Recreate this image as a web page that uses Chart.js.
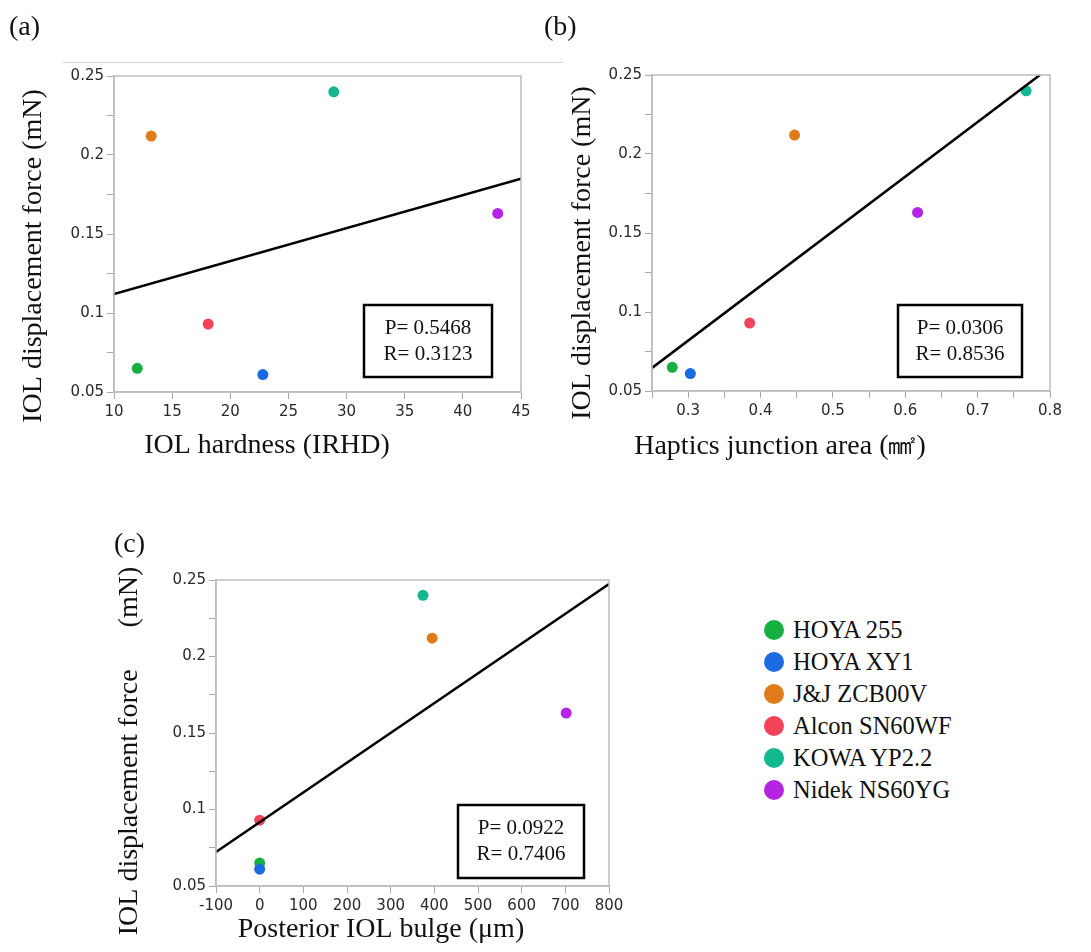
<!DOCTYPE html>
<html>
<head>
<meta charset="utf-8">
<script src="https://cdn.jsdelivr.net/npm/chart.js@4.4.1/dist/chart.umd.min.js"></script>
<style>
  body { margin: 0; background: #fff; }
  #page { position: relative; width: 1091px; height: 952px; overflow: hidden; }
  canvas { position: absolute; }
  #topRule { position: absolute; left: 63px; top: 62px; width: 500px; height: 1px; background: #d4d4d4; }
  #legend { position: absolute; left: 764px; top: 614px; font-family: "Liberation Serif", serif; font-size: 24.5px; color: #111; }
  #legend .row { height: 32px; display: flex; align-items: center; }
  #legend .dot { width: 20px; height: 20px; border-radius: 50%; margin-right: 9px; }
</style>
</head>
<body>
<div id="page">
  <div id="topRule"></div>
  <canvas id="chartA" width="540" height="470" style="left:0;top:0"></canvas>
  <canvas id="chartB" width="551" height="470" style="left:540px;top:0"></canvas>
  <canvas id="chartC" width="540" height="432" style="left:100px;top:520px"></canvas>
  <div id="legend"></div>
</div>
<script>
// dados
const lentes = ['HOYA 255', 'HOYA XY1', 'J&J ZCB00V', 'Alcon SN60WF', 'KOWA YP2.2', 'Nidek NS60YG']
const cores = ['#16b040', '#1a6ae2', '#e07b1a', '#f2435a', '#13b891', '#b524e2']
const forca = [0.065, 0.061, 0.212, 0.093, 0.240, 0.163]

const dureza = [12, 22.8, 13.2, 18.1, 28.9, 43]
const areaJuncao = [0.278, 0.303, 0.447, 0.385, 0.767, 0.617]
const bulge = [0, 0, 395, 0, 374, 702]

// retas de regressao (pontas)
const retaA = [{x: 10, y: 0.112}, {x: 45, y: 0.185}]
const retaB = [{x: 0.25, y: 0.0646}, {x: 0.786, y: 0.25}]
const retaC = [{x: -100, y: 0.0722}, {x: 800, y: 0.2474}]

const statsA = ['P= 0.5468', 'R= 0.3123']
const statsB = ['P= 0.0306', 'R= 0.8536']
const statsC = ['P= 0.0922', 'R= 0.7406']

const SERIF = '"Liberation Serif", "Times New Roman", serif'
const TICK_FONT = {family: '"DejaVu Sans", sans-serif', size: 15}

// legenda em html
const legenda = document.getElementById('legend')
lentes.forEach((nome, i) => {
  const row = document.createElement('div')
  row.className = 'row'
  row.innerHTML = `<span class="dot" style="background:${cores[i]}"></span><span></span>`
  row.lastChild.textContent = nome
  legenda.appendChild(row)
})

// moldura, caixa de P/R, titulos e letra do painel
const decoracao = {
  id: 'decoracao',
  afterDatasetsDraw(chart, args, o) {
    const ctx = chart.ctx
    const a = chart.chartArea
    ctx.save()
    ctx.strokeStyle = '#bdbdbd'
    ctx.lineWidth = 1.5
    ctx.strokeRect(a.left, a.top, a.right - a.left, a.bottom - a.top)

    const b = o.box
    const bx = a.right - b.right - b.w
    const by = a.bottom - b.bottom - b.h
    ctx.fillStyle = '#fff'
    ctx.fillRect(bx, by, b.w, b.h)
    ctx.strokeStyle = '#000'
    ctx.lineWidth = 2.5
    ctx.strokeRect(bx, by, b.w, b.h)
    ctx.fillStyle = '#111'
    ctx.font = '21px ' + SERIF
    ctx.textAlign = 'center'
    ctx.textBaseline = 'middle'
    ctx.fillText(o.stats[0], bx + b.w / 2, by + b.h / 2 - 13)
    ctx.fillText(o.stats[1], bx + b.w / 2, by + b.h / 2 + 13)
    ctx.restore()
  },
  afterDraw(chart, args, o) {
    const ctx = chart.ctx
    ctx.save()
    ctx.fillStyle = '#111'
    ctx.textBaseline = 'middle'
    ctx.font = '28px ' + SERIF
    ctx.textAlign = 'left'
    ctx.fillText(o.label.text, o.label.x, o.label.y)
    ctx.textAlign = 'center'
    ctx.fillText(o.xTitle.text, o.xTitle.x, o.xTitle.y)
    ctx.translate(o.yTitle.x, o.yTitle.y)
    ctx.rotate(-Math.PI / 2)
    ctx.fillText(o.yTitle.text, 0, 0)
    ctx.restore()
  }
}

function rotuloY(v) {
  return Math.abs(v * 20 - Math.round(v * 20)) < 1e-6 ? String(+v.toFixed(2)) : ''
}

function criarPainel(id, xs, reta, cfg) {
  const canvas = document.getElementById(id)
  const W = canvas.width, H = canvas.height
  const area = cfg.area
  return new Chart(canvas, {
    type: 'scatter',
    data: {
      datasets: [
        {
          type: 'line',
          data: reta,
          borderColor: '#000',
          borderWidth: 2.5,
          pointRadius: 0,
          fill: false
        },
        {
          data: xs.map((x, i) => ({x: x, y: forca[i]})),
          backgroundColor: cores,
          borderWidth: 0,
          pointRadius: 5.5
        }
      ]
    },
    options: {
      responsive: false,
      animation: false,
      events: [],
      layout: {padding: {left: 0, top: area.top, right: W - area.right, bottom: 0}},
      plugins: {
        legend: {display: false},
        tooltip: {enabled: false},
        decoracao: {
          box: cfg.box,
          stats: cfg.stats,
          label: cfg.label,
          xTitle: cfg.xTitle,
          yTitle: cfg.yTitle
        }
      },
      scales: {
        x: {
          type: 'linear',
          min: cfg.xMin,
          max: cfg.xMax,
          afterFit: s => { s.height = H - area.bottom },
          grid: {drawOnChartArea: false, tickLength: 7, tickColor: '#a8a8a8'},
          border: {color: '#bdbdbd', width: 1.5},
          ticks: {
            stepSize: cfg.xStep,
            autoSkip: false,
            maxRotation: 0,
            maxTicksLimit: 30,
            padding: 4,
            color: '#2a2a2a',
            font: TICK_FONT,
            callback: cfg.xLabel
          }
        },
        y: {
          min: 0.05,
          max: 0.25,
          afterFit: s => { s.width = area.left },
          grid: {drawOnChartArea: false, tickLength: 7, tickColor: '#a8a8a8'},
          border: {color: '#bdbdbd', width: 1.5},
          ticks: {
            stepSize: 0.025,
            autoSkip: false,
            maxTicksLimit: 30,
            padding: 3,
            color: '#2a2a2a',
            font: TICK_FONT,
            callback: rotuloY
          }
        }
      }
    },
    plugins: [decoracao]
  })
}

criarPainel('chartA', dureza, retaA, {
  area: {left: 114, top: 76, right: 521, bottom: 392},
  xMin: 10, xMax: 45, xStep: 5,
  xLabel: v => String(v),
  box: {right: 29, bottom: 15, w: 128, h: 72},
  stats: statsA,
  label: {text: '(a)', x: 9, y: 28},
  xTitle: {text: 'IOL hardness (IRHD)', x: 267, y: 446},
  yTitle: {text: 'IOL displacement force (mN)', x: 34, y: 256}
})

criarPainel('chartB', areaJuncao, retaB, {
  area: {left: 112, top: 75, right: 510, bottom: 391},
  xMin: 0.25, xMax: 0.8, xStep: 0.05,
  xLabel: v => Math.abs(v * 10 - Math.round(v * 10)) < 1e-6 ? String(+v.toFixed(1)) : '',
  box: {right: 28, bottom: 14, w: 124, h: 72},
  stats: statsB,
  label: {text: '(b)', x: 4, y: 28},
  xTitle: {text: 'Haptics junction area (㎟)', x: 240, y: 447},
  yTitle: {text: 'IOL displacement force (mN)', x: 43, y: 253}
})

criarPainel('chartC', bulge, retaC, {
  area: {left: 116, top: 60, right: 509, bottom: 366},
  xMin: -100, xMax: 800, xStep: 100,
  xLabel: v => String(v),
  box: {right: 25, bottom: 8, w: 126, h: 73},
  stats: statsC,
  label: {text: '(c)', x: 14, y: 25},
  xTitle: {text: 'Posterior IOL bulge (μm)', x: 281, y: 410},
  yTitle: {text: 'IOL displacement force      (mN)', x: 30, y: 231}
})
</script>
</body>
</html>
